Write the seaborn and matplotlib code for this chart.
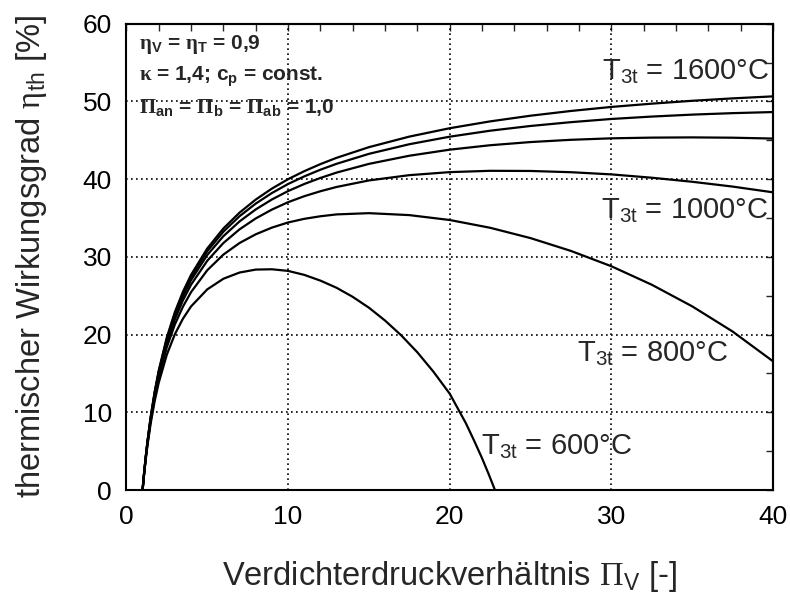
import numpy as np
import pandas as pd
import matplotlib
matplotlib.use("Agg")
import matplotlib.pyplot as plt
import seaborn as sns
from matplotlib.ticker import MultipleLocator

# ---- data ----
pi_hi = [1, 1.1, 1.2, 1.3, 1.5, 1.75, 2, 2.5, 3, 3.5, 4, 5, 6, 7, 8, 9, 10, 11, 12, 13,
         15, 17.5, 20, 22.5, 25, 27.5, 30, 32.5, 35, 37.5, 40]
pi_600 = [1, 1.1, 1.2, 1.3, 1.5, 1.75, 2, 2.5, 3, 3.5, 4, 5, 6, 7, 8, 9, 10, 11, 12, 13,
          14, 15, 16, 17, 18, 19, 20, 21, 21.5, 22, 22.4, 22.8]

eta_600 = [0, 2.13, 4.01, 5.68, 8.55, 11.45, 13.81, 17.42, 20.06, 22.06, 23.63, 25.82,
           27.19, 27.99, 28.37, 28.41, 28.2, 27.69, 26.95, 26.03, 24.86, 23.47, 21.81,
           19.91, 17.72, 15.21, 12.4, 8.6, 6.4, 4.1, 2.1, 0]
eta_800 = [0, 2.20, 4.16, 5.90, 8.90, 11.95, 14.47, 18.38, 21.32, 23.61, 25.47, 28.28,
           30.30, 31.79, 32.91, 33.77, 34.43, 34.90, 35.23, 35.47, 35.63, 35.38, 34.75,
           33.75, 32.42, 30.77, 28.80, 26.42, 23.64, 20.40, 16.57]
eta_1000 = [0, 2.25, 4.24, 6.02, 9.10, 12.24, 14.84, 18.91, 21.99, 24.43, 26.43, 29.50,
            31.79, 33.55, 34.95, 36.09, 37.04, 37.81, 38.45, 39.00, 39.84, 40.52, 40.91,
            41.08, 41.06, 40.90, 40.62, 40.19, 39.67, 39.05, 38.31]
eta_1200 = [0, 2.28, 4.30, 6.11, 9.23, 12.43, 15.08, 19.24, 22.41, 24.94, 27.02, 30.24,
            32.67, 34.57, 36.11, 37.39, 38.47, 39.38, 40.16, 40.85, 41.97, 43.02, 43.80,
            44.37, 44.78, 45.07, 45.26, 45.35, 45.38, 45.34, 45.23]
eta_1400 = [0, 2.30, 4.34, 6.16, 9.32, 12.56, 15.25, 19.47, 22.70, 25.28, 27.41, 30.73,
            33.25, 35.24, 36.86, 38.22, 39.38, 40.36, 41.22, 41.98, 43.26, 44.50, 45.47,
            46.24, 46.85, 47.34, 47.75, 48.06, 48.31, 48.50, 48.64]
eta_1600 = [0, 2.31, 4.37, 6.21, 9.39, 12.66, 15.37, 19.64, 22.91, 25.53, 27.69, 31.08,
            33.66, 35.70, 37.38, 38.79, 40.00, 41.03, 41.94, 42.75, 44.12, 45.48, 46.56,
            47.44, 48.17, 48.78, 49.30, 49.72, 50.09, 50.40, 50.66]

temps = [600, 800, 1000, 1200, 1400, 1600]
series = {600: (pi_600, eta_600), 800: (pi_hi, eta_800), 1000: (pi_hi, eta_1000),
          1200: (pi_hi, eta_1200), 1400: (pi_hi, eta_1400), 1600: (pi_hi, eta_1600)}

rows = []
for t in temps:
    xs, ys = series[t]
    for x, y in zip(xs, ys):
        rows.append({"pi": x, "eta": y, "T": t})
df = pd.DataFrame(rows)

# ---- style ----
sns.set_style("white")
plt.rcParams["font.family"] = ["Liberation Sans", "DejaVu Sans"]
plt.rcParams["mathtext.fontset"] = "custom"
plt.rcParams["mathtext.rm"] = "Liberation Serif"
plt.rcParams["mathtext.bf"] = "Liberation Serif:bold"
plt.rcParams["mathtext.it"] = "Liberation Sans:italic"
plt.rcParams["mathtext.default"] = "regular"
plt.rcParams["axes.linewidth"] = 1.5

fig = plt.figure(figsize=(7.9, 6.05), dpi=100)
ax = fig.add_axes([0.160, 0.190, 0.8185, 0.7707])

sns.lineplot(data=df, x="pi", y="eta", hue="T", units="T", estimator=None,
             palette=["black"] * len(temps), legend=False, linewidth=1.6,
             sort=True, ax=ax)

ax.set_xlim(0, 40)
ax.set_ylim(0, 60)
ax.xaxis.set_major_locator(MultipleLocator(10))
ax.xaxis.set_minor_locator(MultipleLocator(2))
ax.yaxis.set_major_locator(MultipleLocator(10))
ax.yaxis.set_minor_locator(MultipleLocator(5))

for s in ax.spines.values():
    s.set_color("black")
    s.set_linewidth(1.5)

ax.grid(True, which="major", color="black", linestyle=(0, (1, 2)), linewidth=1.2)
ax.tick_params(which="major", direction="inout", length=9, width=1.2, labelsize=19,
               colors="black", pad=6)
ax.tick_params(which="minor", direction="in", length=4, width=1.0)

# top / right ticks pointing inward
secx = ax.secondary_xaxis("top")
secx.xaxis.set_major_locator(MultipleLocator(10))
secx.xaxis.set_minor_locator(MultipleLocator(2))
secx.tick_params(which="both", direction="in", labeltop=False, length=5, width=1.0)
secy = ax.secondary_yaxis("right")
secy.yaxis.set_major_locator(MultipleLocator(10))
secy.yaxis.set_minor_locator(MultipleLocator(5))
secy.tick_params(which="both", direction="in", labelright=False, length=5, width=1.0)

ax.set_xlabel(r"Verdichterdruckverhältnis $\mathrm{Π}_V$ [-]", fontsize=23.5, labelpad=22)
ax.set_ylabel(r"thermischer Wirkungsgrad $\mathrm{η}_{th}$ [%]", fontsize=23.5, labelpad=24)

# parameter box text
box = [r"$\mathbf{η}_V$ = $\mathbf{η}_T$ = 0,9",
       r"$\mathbf{κ}$ = 1,4; $c_p$ = const.",
       r"$\mathbf{Π}_{an}$ = $\mathbf{Π}_b$ = $\mathbf{Π}_{ab}$ = 1,0"]
for i, line in enumerate(box):
    ax.text(0.8, 57.3 - 4.1 * i, line, fontsize=15, fontweight="bold",
            ha="left", va="center")

# temperature labels
labels = [("$T_{3t}$ = 1600°C", 39.8, 53.8), ("$T_{3t}$ = 1000°C", 39.7, 36.0),
          ("$T_{3t}$ = 800°C", 37.2, 17.6), ("$T_{3t}$ = 600°C", 31.3, 5.6)]
for txt, x, y in labels:
    ax.text(x, y, txt, fontsize=21, ha="right", va="center")

fig.savefig("out.png", dpi=100)
